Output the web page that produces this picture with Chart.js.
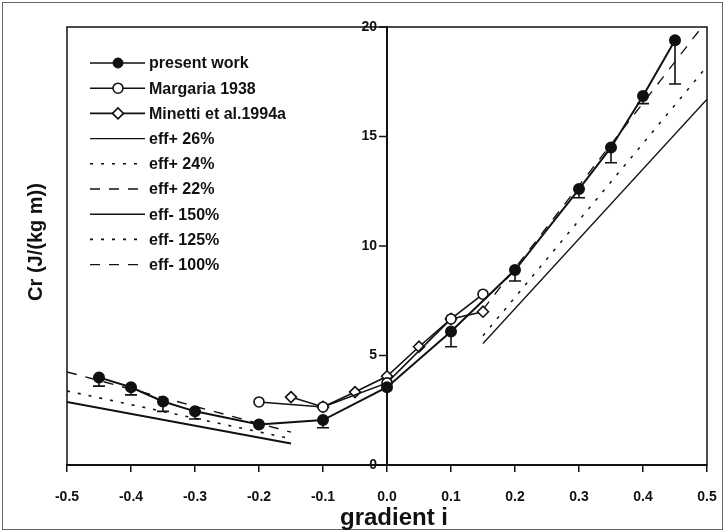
<!DOCTYPE html>
<html>
<head>
<meta charset="utf-8">
<script src="https://cdn.jsdelivr.net/npm/chart.js@4/dist/chart.umd.min.js"></script>
<style>
  html, body { margin: 0; padding: 0; background: #fff; }
  canvas { display: block; }
</style>
</head>
<body>
<canvas id="chart" width="726" height="532" style="width:726px;height:532px"></canvas>
<script>
const gradients = [-0.45, -0.4, -0.35, -0.3, -0.2, -0.1, 0, 0.1, 0.2, 0.3, 0.35, 0.4, 0.45];
const presentWork = [4.0, 3.55, 2.9, 2.45, 1.85, 2.05, 3.55, 6.1, 8.9, 12.6, 14.5, 16.85, 19.4];
const presentWorkLow = [3.6, 3.2, 2.45, 2.1, 1.7, 1.7, 3.4, 5.4, 8.4, 12.2, 13.8, 16.5, 17.4];

const margariaX = [-0.2, -0.1, 0, 0.1, 0.15];
const margariaY = [2.88, 2.65, 3.75, 6.67, 7.8];

const minettiX = [-0.15, -0.1, -0.05, 0, 0.05, 0.1, 0.15];
const minettiY = [3.1, 2.65, 3.33, 4.05, 5.4, 6.67, 7.0];

// model lines (two end points each)
const upX = [0.15, 0.5];
const effUp26 = [5.55, 16.7];
const effUp24 = [5.9, 18.2];
const effUp22 = [7.1, 20.3];
const downX = [-0.5, -0.15];
const effDown150 = [2.88, 0.98];
const effDown125 = [3.38, 1.2];
const effDown100 = [4.25, 1.5];

const xTicks = [-0.5, -0.4, -0.3, -0.2, -0.1, 0, 0.1, 0.2, 0.3, 0.4, 0.5];
const yTicks = [0, 5, 10, 15, 20];

const INK = "#111";
const SANS = "'Liberation Sans', Arial, sans-serif";
const DOTS = [3, 8];
const DASHES = [10, 9];

const pair = (xs, ys) => xs.map((x, i) => ({ x, y: ys[i] }));

const modelLine = (label, xs, ys, dash, width) => ({
  label,
  data: pair(xs, ys),
  borderColor: INK,
  borderWidth: width,
  borderDash: dash,
  pointRadius: 0,
  fill: false,
  order: 5,
});

const datasets = [
  {
    label: "present work",
    data: pair(gradients, presentWork),
    borderColor: INK,
    borderWidth: 2,
    pointStyle: "circle",
    pointRadius: 5,
    pointBackgroundColor: INK,
    pointBorderColor: INK,
    order: 0,
  },
  {
    label: "Margaria 1938",
    data: pair(margariaX, margariaY),
    borderColor: INK,
    borderWidth: 1.6,
    pointStyle: "circle",
    pointRadius: 5,
    pointBorderWidth: 1.6,
    pointBackgroundColor: "#fff",
    pointBorderColor: INK,
    order: 1,
  },
  {
    label: "Minetti et al.1994a",
    data: pair(minettiX, minettiY),
    borderColor: INK,
    borderWidth: 1.6,
    pointStyle: "rectRot",
    pointRadius: 5.5,
    pointBorderWidth: 1.6,
    pointBackgroundColor: "#fff",
    pointBorderColor: INK,
    order: 2,
  },
  modelLine("eff+ 26%", upX, effUp26, [], 1.3),
  modelLine("eff+ 24%", upX, effUp24, DOTS, 1.5),
  modelLine("eff+ 22%", upX, effUp22, DASHES, 1.3),
  modelLine("eff- 150%", downX, effDown150, [], 2),
  modelLine("eff- 125%", downX, effDown125, DOTS, 1.6),
  modelLine("eff- 100%", downX, effDown100, DASHES, 1.4),
];

// white background, outer frame and the box round the plot
const framePlugin = {
  id: "frame",
  beforeDraw(chart) {
    const { ctx, chartArea: a } = chart;
    ctx.save();
    ctx.fillStyle = "#fff";
    ctx.fillRect(0, 0, chart.width, chart.height);
    ctx.strokeStyle = "#666";
    ctx.lineWidth = 1;
    ctx.strokeRect(2.5, 2.5, chart.width - 6, chart.height - 5);
    ctx.strokeStyle = INK;
    ctx.lineWidth = 1.5;
    ctx.strokeRect(a.left, a.top, a.right - a.left, a.bottom - a.top);
    ctx.restore();
  },
};

// the y axis sits at x = 0: its ticks and labels go to the left of it
const yAxisPlugin = {
  id: "centreAxis",
  afterDraw(chart) {
    const { ctx } = chart;
    const xs = chart.scales.x.getPixelForValue(0);
    const ys = chart.scales.y;
    ctx.save();
    ctx.strokeStyle = INK;
    ctx.fillStyle = INK;
    ctx.lineWidth = 1.5;
    ctx.font = "bold 14px " + SANS;
    ctx.textAlign = "right";
    ctx.textBaseline = "middle";
    yTicks.forEach((v) => {
      const y = ys.getPixelForValue(v);
      ctx.beginPath();
      ctx.moveTo(xs - 8, y);
      ctx.lineTo(xs, y);
      ctx.stroke();
      ctx.fillText(String(v), xs - 10, y);
    });
    ctx.restore();
  },
};

// lower error bars of the present work points
const errorBarPlugin = {
  id: "errorBars",
  afterDatasetsDraw(chart) {
    const { ctx } = chart;
    const yScale = chart.scales.y;
    const meta = chart.getDatasetMeta(0);
    ctx.save();
    ctx.strokeStyle = INK;
    ctx.lineWidth = 1.6;
    meta.data.forEach((pt, i) => {
      const yLow = yScale.getPixelForValue(presentWorkLow[i]);
      if (yLow - pt.y < 6) return;
      ctx.beginPath();
      ctx.moveTo(pt.x, pt.y);
      ctx.lineTo(pt.x, yLow);
      ctx.moveTo(pt.x - 6, yLow);
      ctx.lineTo(pt.x + 6, yLow);
      ctx.stroke();
    });
    ctx.restore();
  },
};

// legend column in the upper left of the plot, plus both axis titles
const legendPlugin = {
  id: "columnLegend",
  afterDraw(chart) {
    const { ctx } = chart;
    const x0 = 90, x1 = 145, top = 63, step = 25.2;
    ctx.save();
    chart.data.datasets.forEach((ds, i) => {
      const y = top + i * step;
      ctx.strokeStyle = INK;
      ctx.lineWidth = Math.min(ds.borderWidth, 1.6);
      ctx.setLineDash(ds.borderDash || []);
      ctx.beginPath();
      ctx.moveTo(x0, y);
      ctx.lineTo(x1, y);
      ctx.stroke();
      ctx.setLineDash([]);
      if (ds.pointRadius > 0) {
        ctx.fillStyle = ds.pointBackgroundColor;
        ctx.lineWidth = ds.pointBorderWidth || 1;
        Chart.helpers.drawPoint(ctx, {
          pointStyle: ds.pointStyle,
          radius: ds.pointRadius,
          borderWidth: ds.pointBorderWidth || 1,
          rotation: 0,
        }, 118, y);
      }
      ctx.fillStyle = INK;
      ctx.font = "bold 16px " + SANS;
      ctx.textBaseline = "middle";
      ctx.textAlign = "left";
      ctx.fillText(ds.label, 149, y + 1);
    });

    ctx.font = "bold 24px " + SANS;
    ctx.textAlign = "center";
    ctx.textBaseline = "middle";
    ctx.fillText("gradient i", 394, 518);

    ctx.translate(36, 242);
    ctx.rotate(-Math.PI / 2);
    ctx.font = "bold 20px " + SANS;
    ctx.fillText("Cr (J/(kg m))", 0, 0);
    ctx.restore();
  },
};

const fmtX = (v) => (Math.abs(v) < 1e-9 ? "0.0" : v.toFixed(1));

new Chart(document.getElementById("chart").getContext("2d"), {
  type: "scatter",
  data: { datasets: datasets.map((d) => ({ ...d, showLine: true })) },
  options: {
    responsive: false,
    animation: false,
    devicePixelRatio: 1,
    layout: { padding: { left: 67, right: 19, top: 27, bottom: 0 } },
    plugins: { legend: { display: false }, tooltip: { enabled: false } },
    scales: {
      x: {
        type: "linear",
        min: -0.5,
        max: 0.5,
        afterBuildTicks: (s) => { s.ticks = xTicks.map((v) => ({ value: v })); },
        afterFit: (s) => { s.height = 67; s.paddingLeft = 0; s.paddingRight = 0; },
        ticks: {
          callback: fmtX,
          color: INK,
          padding: 17,
          maxRotation: 0,
          autoSkip: false,
          font: { family: SANS, size: 14, weight: "bold" },
        },
        grid: { drawOnChartArea: false, drawTicks: true, tickLength: 7, color: INK, lineWidth: 1.5 },
        border: { display: true, color: INK, width: 2 },
      },
      y: {
        type: "linear",
        position: { x: 0 },
        min: 0,
        max: 20,
        afterBuildTicks: (s) => { s.ticks = yTicks.map((v) => ({ value: v })); },
        afterFit: (s) => { s.width = 0; s.paddingTop = 0; s.paddingBottom = 0; },
        ticks: { display: false },
        grid: { drawOnChartArea: false, drawTicks: false },
        border: { display: true, color: INK, width: 2 },
      },
    },
  },
  plugins: [framePlugin, errorBarPlugin, yAxisPlugin, legendPlugin],
});
</script>
</body>
</html>
